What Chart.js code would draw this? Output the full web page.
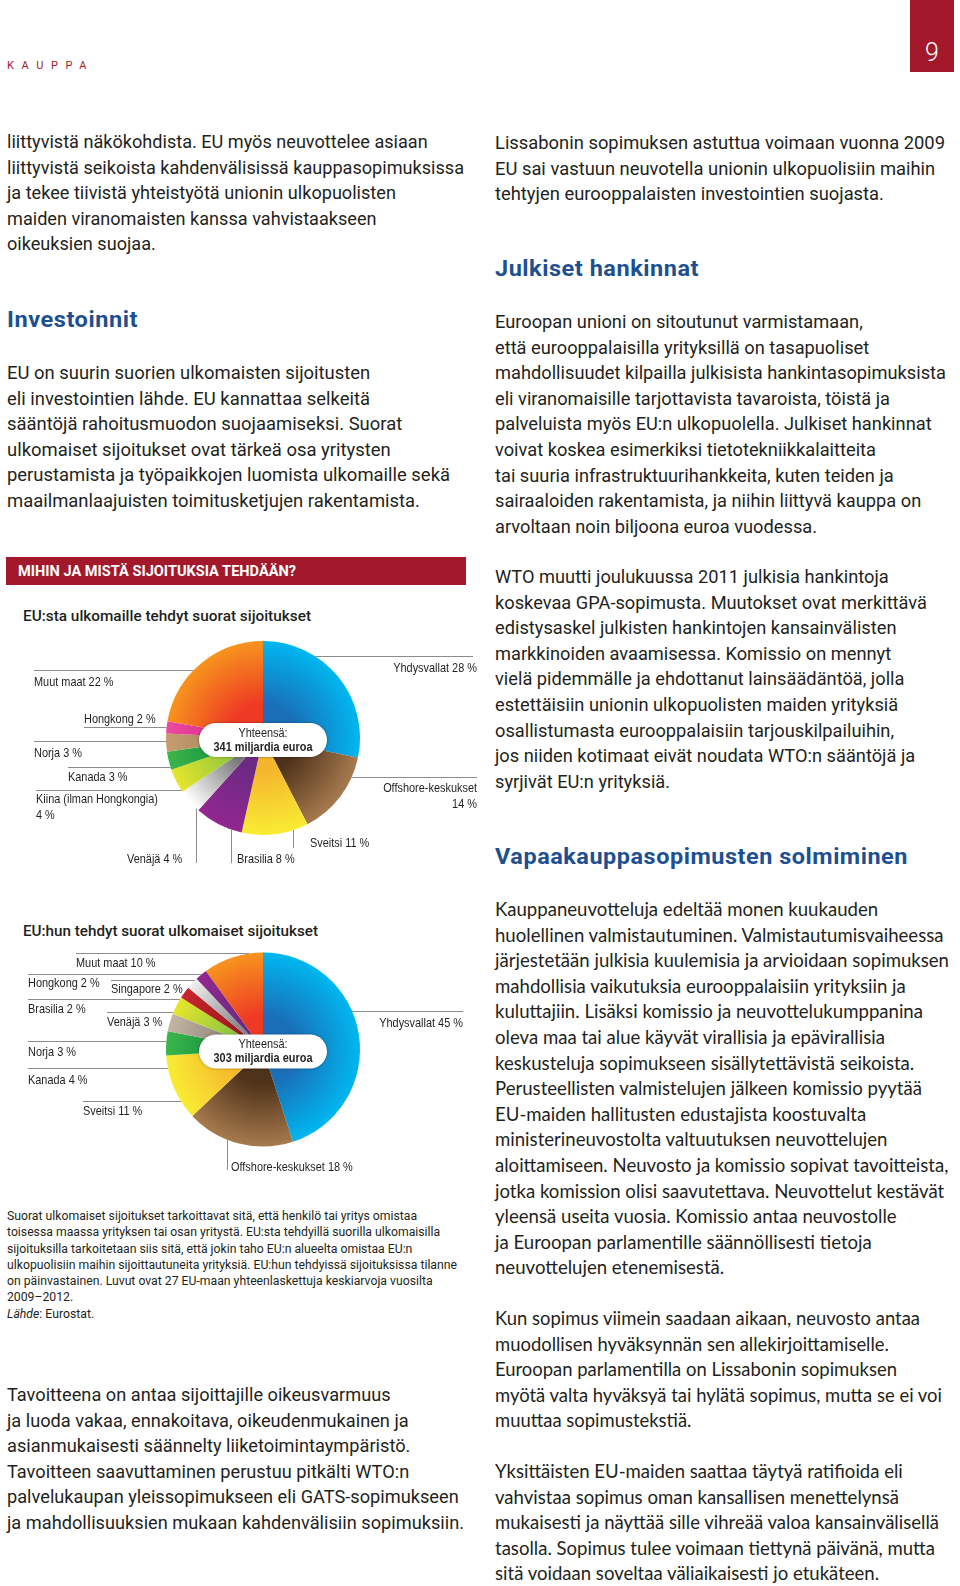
<!DOCTYPE html>
<html lang="fi">
<head>
  <meta charset="UTF-8">
  <title>Kauppa – sijoitukset</title>
  <script src="https://cdn.jsdelivr.net/npm/chart.js"></script>
  <style>
    body { margin: 0; background: #fff; }
    .page { position: relative; width: 960px; height: 1586px; overflow: hidden; font-family: Roboto, sans-serif; color: #231f20; }
    .t { position: absolute; white-space: nowrap; transform-origin: left top; }
    .p { font-size: 18px; line-height: 25.6px; }
    .cal { font-family: Lato, sans-serif; font-size: 18.5px; }
    .h { font-size: 22px; line-height: 30px; font-weight: 700; color: #1d4f91; letter-spacing: 0.5px; }
    .ctitle { font-size: 15.5px; line-height: 20px; font-weight: 500; }
    .note { font-size: 12.5px; line-height: 16.3px; }
    .banner { position: absolute; left: 6px; top: 557px; width: 460px; height: 28px; background: #a3192b; }
    .banner span { position: absolute; left: 12px; top: 5px; color: #fff; font-size: 15px; font-weight: 700; line-height: 18px; white-space: nowrap; transform-origin: left top; }
    .pagebox { position: absolute; left: 910px; top: 0; width: 44px; height: 72px; background: #a3192b; color: #fff; font-size: 25px; font-weight: 300; text-align: center; line-height: 26px; }
    .pagebox span { position: absolute; left: 0; right: 0; top: 40px; }
    .kauppa { position: absolute; left: 7px; top: 59px; font-size: 11px; color: #a3192b; letter-spacing: 7.6px; }
    .chartbox { position: absolute; left: 0; width: 480px; height: 280px; }
  </style>
</head>
<body>
<div class="page">

  <div class="kauppa">KAUPPA</div>
  <div class="pagebox"><span>9</span></div>

  <!-- left column -->
  <div class="t p" style="left:7px; top:129px" data-w="457">liittyvistä näkökohdista. EU myös neuvottelee asiaan<br>liittyvistä seikoista kahdenvälisissä kauppasopimuksissa<br>ja tekee tiivistä yhteistyötä unionin ulkopuolisten<br>maiden viranomaisten kanssa vahvistaakseen<br>oikeuksien suojaa.</div>

  <div class="t h" style="left:7px; top:305px" data-w="131">Investoinnit</div>

  <div class="t p" style="left:7px; top:360px" data-w="443">EU on suurin suorien ulkomaisten sijoitusten<br>eli investointien lähde. EU kannattaa selkeitä<br>sääntöjä rahoitusmuodon suojaamiseksi. Suorat<br>ulkomaiset sijoitukset ovat tärkeä osa yritysten<br>perustamista ja työpaikkojen luomista ulkomaille sekä<br>maailmanlaajuisten toimitusketjujen rakentamista.</div>

  <div class="banner"><span data-w="278">MIHIN JA MISTÄ SIJOITUKSIA TEHDÄÄN?</span></div>

  <div class="t ctitle" style="left:23px; top:606px" data-w="288">EU:sta ulkomaille tehdyt suorat sijoitukset</div>
  <div class="chartbox" style="top:590px"><canvas id="pieOut"></canvas></div>

  <div class="t ctitle" style="left:23px; top:921px" data-w="295">EU:hun tehdyt suorat ulkomaiset sijoitukset</div>
  <div class="chartbox" style="top:900px"><canvas id="pieIn"></canvas></div>

  <div class="t note" style="left:7px; top:1208px" data-w="450">Suorat ulkomaiset sijoitukset tarkoittavat sitä, että henkilö tai yritys omistaa<br>toisessa maassa yrityksen tai osan yritystä. EU:sta tehdyillä suorilla ulkomaisilla<br>sijoituksilla tarkoitetaan siis sitä, että jokin taho EU:n alueelta omistaa EU:n<br>ulkopuolisiin maihin sijoittautuneita yrityksiä. EU:hun tehdyissä sijoituksissa tilanne<br>on päinvastainen. Luvut ovat 27 EU-maan yhteenlaskettuja keskiarvoja vuosilta<br>2009–2012.<br><i>Lähde</i>: Eurostat.</div>

  <div class="t p" style="left:7px; top:1382px" data-w="457">Tavoitteena on antaa sijoittajille oikeusvarmuus<br>ja luoda vakaa, ennakoitava, oikeudenmukainen ja<br>asianmukaisesti säännelty liiketoimintaympäristö.<br>Tavoitteen saavuttaminen perustuu pitkälti WTO:n<br>palvelukaupan yleissopimukseen eli GATS-sopimukseen<br>ja mahdollisuuksien mukaan kahdenvälisiin sopimuksiin.</div>

  <!-- right column -->
  <div class="t p" style="left:495px; top:130px" data-w="450">Lissabonin sopimuksen astuttua voimaan vuonna 2009<br>EU sai vastuun neuvotella unionin ulkopuolisiin maihin<br>tehtyjen eurooppalaisten investointien suojasta.</div>

  <div class="t h" style="left:495px; top:254px" data-w="204">Julkiset hankinnat</div>

  <div class="t p" style="left:495px; top:309px" data-w="451">Euroopan unioni on sitoutunut varmistamaan,<br>että eurooppalaisilla yrityksillä on tasapuoliset<br>mahdollisuudet kilpailla julkisista hankintasopimuksista<br>eli viranomaisille tarjottavista tavaroista, töistä ja<br>palveluista myös EU:n ulkopuolella. Julkiset hankinnat<br>voivat koskea esimerkiksi tietotekniikkalaitteita<br>tai suuria infrastruktuurihankkeita, kuten teiden ja<br>sairaaloiden rakentamista, ja niihin liittyvä kauppa on<br>arvoltaan noin biljoona euroa vuodessa.</div>

  <div class="t p" style="left:495px; top:564px" data-w="432">WTO muutti joulukuussa 2011 julkisia hankintoja<br>koskevaa GPA-sopimusta. Muutokset ovat merkittävä<br>edistysaskel julkisten hankintojen kansainvälisten<br>markkinoiden avaamisessa. Komissio on mennyt<br>vielä pidemmälle ja ehdottanut lainsäädäntöä, jolla<br>estettäisiin unionin ulkopuolisten maiden yrityksiä<br>osallistumasta eurooppalaisiin tarjouskilpailuihin,<br>jos niiden kotimaat eivät noudata WTO:n sääntöjä ja<br>syrjivät EU:n yrityksiä.</div>

  <div class="t h" style="left:495px; top:842px" data-w="413">Vapaakauppasopimusten solmiminen</div>

  <div class="t p cal" style="left:495px; top:897px" data-w="454">Kauppaneuvotteluja edeltää monen kuukauden<br>huolellinen valmistautuminen. Valmistautumisvaiheessa<br>järjestetään julkisia kuulemisia ja arvioidaan sopimuksen<br>mahdollisia vaikutuksia eurooppalaisiin yrityksiin ja<br>kuluttajiin. Lisäksi komissio ja neuvottelukumppanina<br>oleva maa tai alue käyvät virallisia ja epävirallisia<br>keskusteluja sopimukseen sisällytettävistä seikoista.<br>Perusteellisten valmistelujen jälkeen komissio pyytää<br>EU-maiden hallitusten edustajista koostuvalta<br>ministerineuvostolta valtuutuksen neuvottelujen<br>aloittamiseen. Neuvosto ja komissio sopivat tavoitteista,<br>jotka komission olisi saavutettava. Neuvottelut kestävät<br>yleensä useita vuosia. Komissio antaa neuvostolle<br>ja Euroopan parlamentille säännöllisesti tietoja<br>neuvottelujen etenemisestä.</div>

  <div class="t p cal" style="left:495px; top:1306px" data-w="447">Kun sopimus viimein saadaan aikaan, neuvosto antaa<br>muodollisen hyväksynnän sen allekirjoittamiselle.<br>Euroopan parlamentilla on Lissabonin sopimuksen<br>myötä valta hyväksyä tai hylätä sopimus, mutta se ei voi<br>muuttaa sopimustekstiä.</div>

  <div class="t p cal" style="left:495px; top:1459px" data-w="444">Yksittäisten EU-maiden saattaa täytyä ratifioida eli<br>vahvistaa sopimus oman kansallisen menettelynsä<br>mukaisesti ja näyttää sille vihreää valoa kansainvälisellä<br>tasolla. Sopimus tulee voimaan tiettynä päivänä, mutta<br>sitä voidaan soveltaa väliaikaisesti jo etukäteen.</div>

</div>

<script>
  // EU:sta ulkomaille (341 mrd €), clockwise from 12 o'clock
  const outLabels = ['Yhdysvallat', 'Offshore-keskukset', 'Sveitsi', 'Brasilia', 'Venäjä', 'Kiina (ilman Hongkongia)', 'Kanada', 'Norja', 'Hongkong', 'Muut maat'];
  const outValues = [28, 14, 11, 8, 4, 4, 3, 3, 2, 22];
  const outTotal = 341;

  // EU:hun (303 mrd €)
  const inLabels = ['Yhdysvallat', 'Offshore-keskukset', 'Sveitsi', 'Kanada', 'Norja', 'Venäjä', 'Brasilia', 'Singapore', 'Hongkong', 'Muut maat'];
  const inValues = [45, 18, 11, 4, 3, 3, 2, 2, 2, 10];
  const inTotal = 303;

  // [inner, outer] gradient colours per slice
  const outColors = [
    ['#1a6fb8', '#00b7f0'], ['#4e3219', '#a67a4e'], ['#f5b62e', '#f9ec33'], ['#6b2a84', '#93278f'],
    ['#7a7a7a', '#ffffff'], ['#8cc63f', '#e8e52b'], ['#0f8f3e', '#3cb54a'], ['#a6845c', '#c59d6e'],
    ['#d8288a', '#ec4aa0'], ['#ee3a24', '#f7941d']
  ];
  const inColors = [
    ['#1a6fb8', '#00b7f0'], ['#4e3219', '#a67a4e'], ['#f5b62e', '#f9ec33'], ['#0f8f3e', '#3cb54a'],
    ['#8c8378', '#c4b5a2'], ['#8cc63f', '#e8e52b'], ['#9e1b20', '#c8242b'], ['#8a8a8a', '#f0f0f0'],
    ['#6b2a84', '#93278f'], ['#ee3a24', '#f7941d']
  ];

  // label placement, page coordinates (line = horizontal leader at y, v = vertical leader at x)
  const outPlace = [
    { x: 477, y: 668, align: 'right', line: 656, from: 473, side: 'right' },
    { x: 477, y: 788, align: 'right', wrap: true, line: 777, from: 477, side: 'right' },
    { x: 310, y: 843, v: 293, to: 848 },
    { x: 237, y: 859, v: 231, to: 863 },
    { x: 127, y: 859, v: 196, to: 863 },
    { x: 36, y: 799, wrap: true, line: 790, from: 36, side: 'left' },
    { x: 68, y: 777, line: 767, from: 68, side: 'left' },
    { x: 34, y: 753, line: 741, from: 34, side: 'left' },
    { x: 84, y: 719, line: 727, from: 84, side: 'left' },
    { x: 34, y: 682, line: 670, from: 34, side: 'left' }
  ];
  const inPlace = [
    { x: 463, y: 1023, align: 'right', line: 1011, from: 463, side: 'right' },
    { x: 231, y: 1167, v: 227, to: 1170 },
    { x: 83, y: 1111, line: 1101, from: 83, side: 'left' },
    { x: 28, y: 1080, line: 1068, from: 28, side: 'left' },
    { x: 28, y: 1052, line: 1041, from: 28, side: 'left' },
    { x: 107, y: 1022, line: 1012, from: 107, side: 'left' },
    { x: 28, y: 1009, line: 999, from: 28, side: 'left' },
    { x: 111, y: 989, line: 980, from: 111, side: 'left' },
    { x: 28, y: 983, line: 974, from: 28, side: 'left' },
    { x: 76, y: 963, line: 953, from: 76, side: 'left' }
  ];

  const SQUEEZE = 0.84;

  function narrowText(ctx, text, x, y) {
    ctx.fillText(text, x, y, ctx.measureText(text).width * SQUEEZE);
  }

  function sliceFill(colors) {
    return c => {
      const pair = colors[c.dataIndex];
      const area = c.chart.chartArea;
      if (!area) return pair[1];
      const cx = (area.left + area.right) / 2, cy = (area.top + area.bottom) / 2;
      const r = Math.min(area.right - area.left, area.bottom - area.top) / 2;
      const g = c.chart.ctx.createRadialGradient(cx, cy, 0, cx, cy, r);
      g.addColorStop(0, pair[0]);
      g.addColorStop(0.35, pair[0]);
      g.addColorStop(1, pair[1]);
      return g;
    };
  }

  const labelPlugin = {
    id: 'leaders',
    afterDraw(chart, args, opts) {
      const ctx = chart.ctx;
      const arc = chart.getDatasetMeta(0).data[0];
      const cx = arc.x, cy = arc.y, r = arc.outerRadius;
      const top = opts.top;
      const labels = chart.data.labels, values = chart.data.datasets[0].data;
      ctx.save();
      ctx.strokeStyle = '#8c8c8c';
      ctx.lineWidth = 1;
      ctx.fillStyle = '#231f20';
      ctx.font = '13px "Liberation Sans", Arial, sans-serif';
      ctx.textBaseline = 'middle';
      opts.place.forEach((p, i) => {
        ctx.beginPath();
        if (p.line !== undefined) {
          const y = p.line - top + 0.5;
          const dy = y - cy;
          const half = Math.sqrt(Math.max(0, r * r - dy * dy));
          const edge = p.side === 'left' ? cx - half : cx + half;
          ctx.moveTo(p.from, y);
          ctx.lineTo(edge, y);
        } else {
          const x = p.v + 0.5;
          const dx = x - cx;
          ctx.moveTo(x, cy + Math.sqrt(Math.max(0, r * r - dx * dx)));
          ctx.lineTo(x, p.to - top);
        }
        ctx.stroke();

        ctx.textAlign = p.align || 'left';
        const val = values[i] + ' %';
        if (p.wrap) {
          narrowText(ctx, labels[i], p.x, p.y - top);
          narrowText(ctx, val, p.x, p.y - top + 16.5);
        } else {
          narrowText(ctx, labels[i] + ' ' + val, p.x, p.y - top);
        }
      });

      // total pill
      const pw = 128, ph = 34, px = cx - pw / 2, py = cy + 2 - ph / 2;
      ctx.shadowColor = 'rgba(0,0,0,0.35)';
      ctx.shadowBlur = 3;
      ctx.fillStyle = '#fff';
      ctx.beginPath();
      ctx.roundRect(px, py, pw, ph, ph / 2);
      ctx.fill();
      ctx.shadowBlur = 0;
      ctx.fillStyle = '#231f20';
      ctx.textAlign = 'center';
      narrowText(ctx, 'Yhteensä:', cx, cy - 5);
      ctx.font = 'bold 13px "Liberation Sans", Arial, sans-serif';
      narrowText(ctx, opts.total + ' miljardia euroa', cx, cy + 9);
      ctx.restore();
    }
  };

  function makePie(id, labels, values, colors, place, top, padTop, total) {
    return new Chart(document.getElementById(id), {
      type: 'pie',
      data: {
        labels,
        datasets: [{ data: values, backgroundColor: sliceFill(colors), borderWidth: 0 }]
      },
      options: {
        responsive: true,
        maintainAspectRatio: false,
        animation: false,
        events: [],
        layout: { padding: { left: 166, right: 120, top: padTop, bottom: 280 - padTop - 194 } },
        plugins: {
          legend: { display: false },
          tooltip: { enabled: false },
          leaders: { place, top, total }
        }
      },
      plugins: [labelPlugin]
    });
  }

  // squeeze text blocks to the measured widths of the printed page
  function fitText() {
    document.querySelectorAll('[data-w]').forEach(el => {
      el.style.transform = '';
      const w = el.getBoundingClientRect().width;
      if (w > 0) el.style.transform = `scaleX(${el.dataset.w / w})`;
    });
  }

  fitText();
  if (document.fonts) document.fonts.ready.then(fitText);

  makePie('pieOut', outLabels, outValues, outColors, outPlace, 590, 51, outTotal);
  makePie('pieIn', inLabels, inValues, inColors, inPlace, 900, 52.5, inTotal);
</script>
</body>
</html>
